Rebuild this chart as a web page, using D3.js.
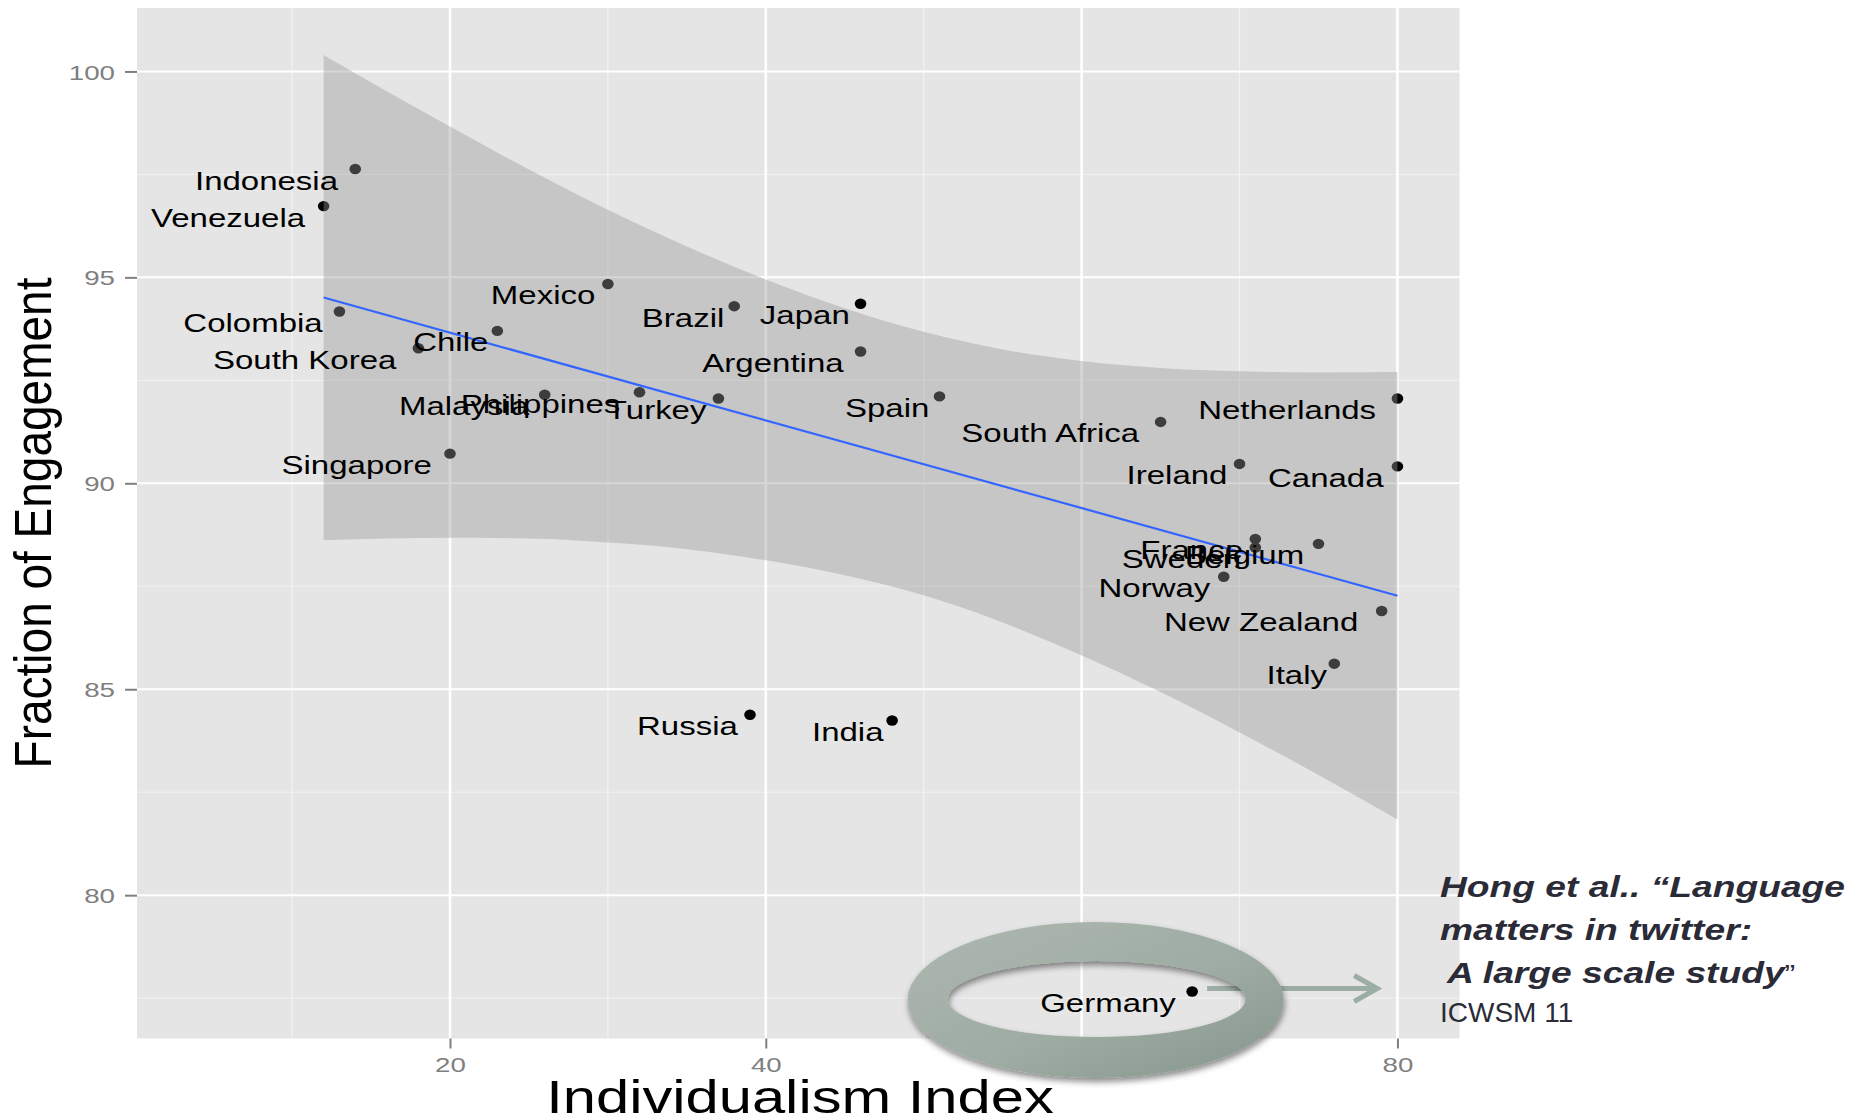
<!DOCTYPE html>
<html>
<head>
<meta charset="utf-8">
<script src="https://cdn.jsdelivr.net/npm/d3@7"></script>
<style>
  html, body { margin: 0; padding: 0; background: #ffffff; }
  svg { display: block; }
  text { font-family: "Liberation Sans", Arial, Helvetica, sans-serif; }
</style>
</head>
<body>
<svg id="chart" width="1854" height="1115"></svg>
<script>
// Countries with Hofstede individualism index and fraction of engaged tweets (%)
const countries = ["Indonesia", "Venezuela", "Colombia", "South Korea", "Chile", "Mexico",
  "Malaysia", "Philippines", "Singapore", "Turkey", "Brazil", "Japan", "Argentina", "Spain",
  "South Africa", "Netherlands", "Ireland", "Canada", "France", "Sweden", "Belgium", "Norway",
  "New Zealand", "Italy", "Russia", "India", "Germany"];
const individualism = [14, 12, 13, 18, 23, 30, 26, 32, 20, 37, 38, 46, 46, 51,
  65, 80, 70, 80, 71, 71, 75, 69, 79, 76, 39, 48, 67];
const engagement = [97.63, 96.73, 94.17, 93.28, 93.70, 94.84, 92.15, 92.21, 90.72, 92.06,
  94.30, 94.36, 93.20, 92.11, 91.49, 92.06, 90.47, 90.41, 88.65, 88.44, 88.53, 87.73,
  86.90, 85.62, 84.38, 84.24, 77.66];

// Linear fit and its confidence band
const fitX = [12, 80];
const fitY = [94.51, 87.27];
const bandX = [12, 16, 20, 25, 30, 35, 40, 45, 50, 55, 60, 65, 70, 75, 80];
const bandUpper = [100.40, 99.52, 98.66, 97.62, 96.64, 95.75, 94.95, 94.25, 93.68, 93.25,
  92.97, 92.80, 92.72, 92.69, 92.70];
const bandLower = [88.62, 88.66, 88.68, 88.66, 88.56, 88.40, 88.13, 87.77, 87.28, 86.62,
  85.82, 84.93, 83.95, 82.92, 81.84];

// Axis ticks
const xTicks = [20, 40, 60, 80];
const xMinorTicks = [10, 30, 50, 70];
const yTicks = [80, 85, 90, 95, 100];
const yMinorTicks = [77.5, 82.5, 87.5, 92.5, 97.5];

const highlighted = "Germany";

const svg = d3.select("#chart");
const panel = { left: 137, right: 1459.5, top: 8, bottom: 1038.5 };

const x = d3.scaleLinear().domain([0.18, 83.93]).range([panel.left, panel.right]);
const y = d3.scaleLinear().domain([76.52, 101.54]).range([panel.bottom, panel.top]);

const STRETCH = 1.32;   // horizontal stretch of chart text

// panel background
svg.append("rect")
  .attr("x", panel.left).attr("y", panel.top)
  .attr("width", panel.right - panel.left).attr("height", panel.bottom - panel.top)
  .attr("fill", "#e5e5e5");

const grid = svg.append("g");
grid.selectAll(".xminor").data(xMinorTicks).join("line")
  .attr("x1", d => x(d)).attr("x2", d => x(d))
  .attr("y1", panel.top).attr("y2", panel.bottom)
  .attr("stroke", "#f2f2f2").attr("stroke-width", 1.3);
grid.selectAll(".yminor").data(yMinorTicks).join("line")
  .attr("x1", panel.left).attr("x2", panel.right)
  .attr("y1", d => y(d)).attr("y2", d => y(d))
  .attr("stroke", "#f2f2f2").attr("stroke-width", 1);
grid.selectAll(".xmajor").data(xTicks).join("line")
  .attr("x1", d => x(d)).attr("x2", d => x(d))
  .attr("y1", panel.top).attr("y2", panel.bottom)
  .attr("stroke", "#ffffff").attr("stroke-width", 2.6);
grid.selectAll(".ymajor").data(yTicks).join("line")
  .attr("x1", panel.left).attr("x2", panel.right)
  .attr("y1", d => y(d)).attr("y2", d => y(d))
  .attr("stroke", "#ffffff").attr("stroke-width", 2);

const rows = countries.map((c, i) => ({ name: c, x: individualism[i], y: engagement[i] }));

// points (drawn below the band, so the band tints them)
svg.append("g").selectAll("ellipse").data(rows).join("ellipse")
  .attr("cx", d => x(d.x)).attr("cy", d => y(d.y))
  .attr("rx", 5.8).attr("ry", 5.2)
  .attr("fill", "#000000");

// confidence band
const band = bandX.map((bx, i) => ({ x: bx, lo: bandLower[i], hi: bandUpper[i] }));
svg.append("path")
  .datum(band)
  .attr("d", d3.area().curve(d3.curveMonotoneX)
    .x(d => x(d.x)).y0(d => y(d.lo)).y1(d => y(d.hi)))
  .attr("fill", "#999999").attr("fill-opacity", 0.4);

// fitted line
svg.append("path")
  .datum(fitX.map((fx, i) => [fx, fitY[i]]))
  .attr("d", d3.line().x(d => x(d[0])).y(d => y(d[1])))
  .attr("fill", "none").attr("stroke", "#3366ff").attr("stroke-width", 2.2);

// country labels: right-aligned, slightly left of and below each point
const labels = svg.append("g").selectAll("text").data(rows).join("text")
  .attr("text-anchor", "end")
  .attr("font-size", 25)
  .attr("fill", "#000000")
  .text(d => d.name);
labels.each(function (d) {
  const w = this.getComputedTextLength() * STRETCH;
  const tx = x(d.x) - 0.12 * w;
  const ty = y(d.y) + 20.5;
  d3.select(this).attr("transform", `translate(${tx},${ty}) scale(${STRETCH},1)`);
});

// axes
const yAxis = svg.append("g")
  .attr("transform", `translate(${panel.left},0)`)
  .call(d3.axisLeft(y).tickValues(yTicks).tickSize(12).tickFormat(d3.format("d")));
yAxis.select(".domain").remove();
yAxis.selectAll(".tick line").attr("stroke", "#7f7f7f").attr("stroke-width", 2);
yAxis.selectAll(".tick text")
  .attr("x", null).attr("dy", null)
  .attr("transform", `translate(-22,7.6) scale(${STRETCH},1)`)
  .attr("font-size", 21).attr("fill", "#7f7f7f")
  .attr("font-family", "Liberation Sans, Arial, sans-serif");

const xAxis = svg.append("g")
  .attr("transform", `translate(0,${panel.bottom})`)
  .call(d3.axisBottom(x).tickValues(xTicks).tickSize(10).tickFormat(d3.format("d")));
xAxis.select(".domain").remove();
xAxis.selectAll(".tick line").attr("stroke", "#7f7f7f").attr("stroke-width", 2);
xAxis.selectAll(".tick text")
  .attr("y", null).attr("dy", null)
  .attr("transform", `translate(0,33.5) scale(${STRETCH},1)`)
  .attr("font-size", 21).attr("fill", "#7f7f7f")
  .attr("font-family", "Liberation Sans, Arial, sans-serif");

// axis titles
svg.append("text")
  .attr("text-anchor", "middle")
  .attr("font-size", 47)
  .attr("fill", "#000000")
  .attr("transform", `translate(800,1113) scale(1.27,1)`)
  .text("Individualism Index");

svg.append("text")
  .attr("text-anchor", "middle")
  .attr("font-size", 46)
  .attr("fill", "#000000")
  .attr("transform", `translate(51,523) scale(1.14,1) rotate(-90)`)
  .text("Fraction of Engagement");

// highlight ring and arrow around the outlier
const g = rows.find(d => d.name === highlighted);
const gx = x(g.x), gy = y(g.y);

const defs = svg.append("defs");
const grad = defs.append("linearGradient").attr("id", "ringFill")
  .attr("x1", "0").attr("y1", "0").attr("x2", "1").attr("y2", "1");
grad.append("stop").attr("offset", "0").attr("stop-color", "#adb7b0");
grad.append("stop").attr("offset", "0.55").attr("stop-color", "#9eaca3");
grad.append("stop").attr("offset", "1").attr("stop-color", "#86958b");
const shadow = defs.append("filter").attr("id", "ringShadow")
  .attr("x", "-10%").attr("y", "-20%").attr("width", "120%").attr("height", "150%");
shadow.append("feDropShadow")
  .attr("dx", 1).attr("dy", 4).attr("stdDeviation", 3)
  .attr("flood-color", "#000000").attr("flood-opacity", 0.45);

const arrowY = gy - 3;
const arrow = svg.append("g")
  .attr("stroke", "#9cada3").attr("stroke-width", 5).attr("fill", "none")
  .attr("stroke-linecap", "butt");
arrow.append("line")
  .attr("x1", gx + 15).attr("x2", gx + 184)
  .attr("y1", arrowY).attr("y2", arrowY);
arrow.append("path")
  .attr("d", `M${gx + 162},${arrowY - 13} L${gx + 185},${arrowY} L${gx + 162},${arrowY + 13}`);

const ocx = gx - 96.5, ocy = gy + 8.5, orx = 188, ory = 78;
const icx = gx - 95.5, icy = gy + 7.5, irx = 149, iry = 38;
function ellipsePath(cx, cy, rx, ry) {
  return `M${cx - rx},${cy} a${rx},${ry} 0 1,0 ${2 * rx},0 a${rx},${ry} 0 1,0 ${-2 * rx},0 Z`;
}
svg.append("path")
  .attr("d", ellipsePath(ocx, ocy, orx, ory) + " " + ellipsePath(icx, icy, irx, iry))
  .attr("fill-rule", "evenodd")
  .attr("fill", "url(#ringFill)")
  .attr("filter", "url(#ringShadow)");

// reference note
const note = svg.append("g").attr("fill", "#2b2b37");
const noteLines = ["Hong et al.. \u201cLanguage", "matters in twitter:", "A large scale study"];
const noteBase = [897, 940, 983];
const noteLeft = [1440, 1440, 1447];
noteLines.forEach((t, i) => {
  const txt = note.append("text")
    .attr("font-size", 30).attr("font-weight", "bold").attr("font-style", "italic")
    .attr("transform", `translate(${noteLeft[i]},${noteBase[i]}) scale(1.24,1)`)
    .text(t);
  if (i === 2) {
    txt.append("tspan").attr("font-weight", "normal").attr("font-style", "normal")
      .attr("font-size", 26).text("\u201d");
  }
});
note.append("text")
  .attr("font-size", 28)
  .attr("transform", "translate(1440,1022)")
  .text("ICWSM 11");
</script>
</body>
</html>
